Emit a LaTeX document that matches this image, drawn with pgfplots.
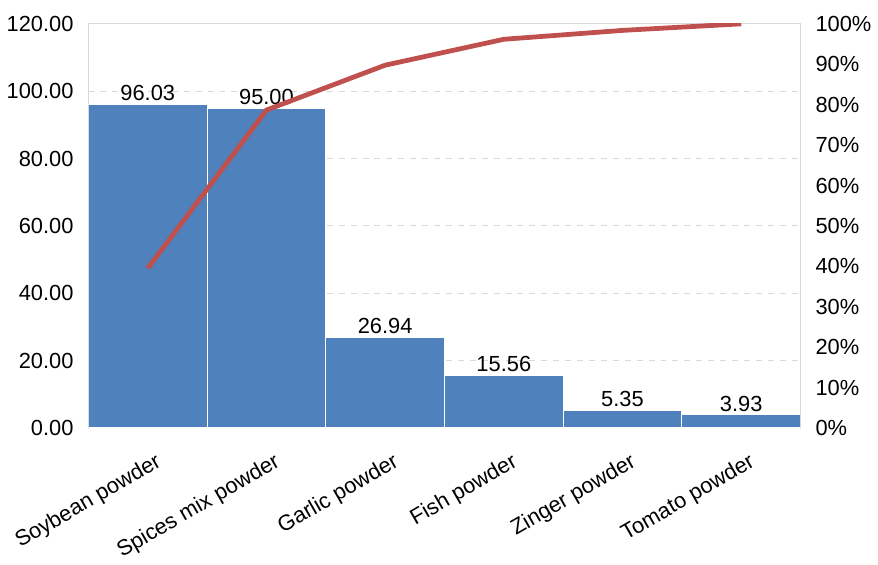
\documentclass[border=0pt]{standalone}
\usepackage{pgfplots}
\pgfplotsset{compat=1.18}
\usepackage{fontspec}
\setmainfont{Liberation Sans}
\definecolor{barblue}{HTML}{4F81BD}
\definecolor{linered}{HTML}{C0504D}
\definecolor{framegray}{HTML}{D9D9D9}
\begin{document}
\begin{tikzpicture}
\pgfplotsset{
  every axis/.append style={
    width=358.5pt, height=203.5pt, scale only axis,
    xmin=-0.5, xmax=5.5,
    font=\fontsize{11}{13}\selectfont,
    /pgf/number format/assume math mode=true,
    major tick length=0pt,
    axis line style={framegray},
  }
}
\begin{axis}[
  ymin=0, ymax=120,
  ytick={0,20,...,120},
  yticklabel style={xshift=-4pt, /pgf/number format/fixed,/pgf/number format/fixed zerofill,/pgf/number format/precision=2},
  ymajorgrids,
  grid style={framegray, dashed, line width=0.5pt},
  xtick=data,
  xticklabels={Soybean powder,Spices mix powder,Garlic powder,Fish powder,Zinger powder,Tomato powder},
  xticklabel style={rotate=30, anchor=north east, inner sep=1pt, xshift=-2pt, yshift=-11pt},
  axis y line*=left,
  axis x line*=bottom,
  enlarge x limits=false,
  ybar=0pt,
  after end axis/.code={\path (rel axis cs:0,1) ++(0,12pt);},
]
\addplot[ybar, bar width=1, fill=barblue, draw=white, line width=0.6pt,
  nodes near coords,
  nodes near coords style={text=black, font=\fontsize{11}{13}\selectfont, inner sep=1.5pt, /pgf/number format/fixed,/pgf/number format/fixed zerofill,/pgf/number format/precision=2}]
  coordinates {(0,96.03) (1,95.00) (2,26.94) (3,15.56) (4,5.35) (5,3.93)};
\end{axis}
\begin{axis}[
  ymin=0, ymax=100,
  ytick={0,10,...,100},
  yticklabel={\pgfmathprintnumber{\tick}\%},
  yticklabel style={xshift=4pt},
  axis y line*=right,
  axis x line*=top,
  xtick=\empty,
]
\addplot[linered, line width=2.4pt, mark=none] coordinates {(0,39.55) (1,78.67) (2,89.77) (3,96.18) (4,98.38) (5,100)};
\end{axis}
\end{tikzpicture}
\end{document}
